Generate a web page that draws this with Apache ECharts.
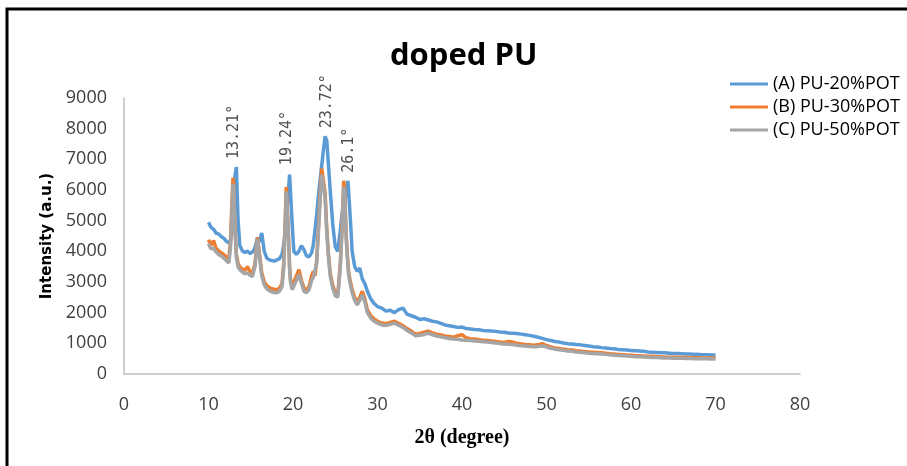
<!DOCTYPE html>
<html>
<head>
<meta charset="utf-8">
<script src="https://cdn.jsdelivr.net/npm/echarts@6/dist/echarts.min.js"></script>
<style>
  html, body { margin: 0; padding: 0; background: #fff; }
  #chart { width: 907px; height: 466px; }
</style>
</head>
<body>
<div id="chart"></div>
<script>
// 2theta positions (deg), shared by the three scans
const theta = [
  10.0, 10.3, 10.6, 10.9, 11.2, 11.5, 11.8, 12.1, 12.4, 12.6,
  12.8, 12.9, 13.0, 13.1, 13.3, 13.5, 13.7, 14.0, 14.3, 14.6,
  14.9, 15.2, 15.5, 15.8, 16.0, 16.3, 16.6, 16.9, 17.2, 17.5,
  17.8, 18.1, 18.4, 18.7, 18.9, 19.1, 19.2, 19.4, 19.6, 19.7,
  19.9, 20.1, 20.4, 20.7, 21.0, 21.3, 21.6, 21.9, 22.2, 22.4,
  22.6, 22.8, 23.0, 23.2, 23.4, 23.6, 23.8, 24.0, 24.2, 24.4,
  24.7, 25.0, 25.3, 25.6, 25.8, 26.0, 26.1, 26.3, 26.5, 26.6,
  26.8, 27.0, 27.3, 27.6, 27.9, 28.2, 28.5, 28.8, 29.2, 29.6,
  30.0, 30.5, 31.0, 31.5, 32.0, 32.5, 33.0, 33.5, 34.0, 34.5,
  35.0, 35.5, 36.0, 36.5, 37.0, 37.5, 38.0, 38.5, 39.0, 39.5,
  40.0, 40.5, 41.0, 41.5, 42.0, 42.5, 43.0, 43.5, 44.0, 44.5,
  45.0, 45.5, 46.0, 46.5, 47.0, 47.5, 48.0, 48.5, 49.0, 49.5,
  50.0, 50.5, 51.0, 51.5, 52.0, 52.5, 53.0, 53.5, 54.0, 54.5,
  55.0, 55.5, 56.0, 56.5, 57.0, 57.5, 58.0, 58.5, 59.0, 59.5,
  60.0, 60.5, 61.0, 61.5, 62.0, 62.5, 63.0, 63.5, 64.0, 64.5,
  65.0, 65.5, 66.0, 66.5, 67.0, 67.5, 68.0, 68.5, 69.0, 69.5,
  70.0
];

// (A) PU-20%POT
const intensityA = [
  4950, 4780, 4720, 4590, 4570, 4480, 4430, 4330, 4280, 4350,
  4700, 5300, 5900, 6400, 6750, 5000, 4200, 4020, 3960, 4010,
  3930, 3980, 4100, 4450, 4300, 4600, 4000, 3780, 3720, 3700,
  3680, 3720, 3760, 3900, 4200, 4700, 5000, 5800, 6500, 6550,
  4900, 4000, 3900, 4000, 4180, 4050, 3850, 3820, 3950, 4200,
  4700, 5200, 5800, 6300, 6800, 7300, 7750, 7600, 6800, 6000,
  4900, 4150, 4000, 4700, 5200, 5600, 5550, 5900, 6300, 6250,
  5000, 4000, 3500, 3350, 3450, 3100, 2950, 2700, 2450, 2300,
  2200, 2150, 2050, 2080, 2000, 2100, 2150, 1950, 1900, 1850,
  1780, 1800, 1760, 1720, 1700, 1650, 1600, 1570, 1550, 1520,
  1530, 1480, 1470, 1450, 1440, 1420, 1410, 1400, 1390, 1370,
  1360, 1340, 1330, 1320, 1300, 1280, 1260, 1230, 1200, 1160,
  1120, 1090, 1060, 1040, 1010, 990, 980, 960, 950, 930,
  910, 890, 880, 860, 850, 830, 820, 800, 790, 780,
  770, 760, 750, 740, 720, 710, 700, 690, 690, 680,
  670, 665, 660, 650, 650, 640, 640, 630, 630, 620,
  620
];

// (B) PU-30%POT
const intensityB = [
  4380, 4200, 4350, 4100, 4020, 3950, 3900, 3820, 3750, 4300,
  5800, 6400, 6100, 5000, 3900, 3600, 3500, 3420, 3380, 3500,
  3350, 3280, 3600, 4450, 4000, 3300, 3000, 2880, 2820, 2780,
  2760, 2750, 2800, 2950, 3600, 5200, 6100, 5000, 3500, 3100,
  2850, 2800, 3200, 3400, 3050, 2800, 2750, 2850, 3200, 3350,
  3200, 3700, 4700, 5800, 6700, 6650, 5900, 4700, 3900, 3300,
  2900, 2650, 2600, 3600, 4800, 6300, 6100, 4500, 3600, 3300,
  3000, 2750, 2500, 2350, 2500, 2700, 2450, 2100, 1900, 1800,
  1720, 1660, 1640, 1680, 1720, 1650, 1580, 1480, 1400, 1300,
  1320, 1360, 1400, 1340, 1300, 1270, 1240, 1220, 1200, 1250,
  1280, 1180, 1150, 1140, 1120, 1100, 1090, 1080, 1060, 1040,
  1030, 1060, 1040, 1000, 980, 960, 950, 940, 950, 990,
  930, 880, 850, 830, 810, 790, 780, 760, 750, 730,
  720, 710, 700, 690, 680, 660, 650, 640, 630, 620,
  610, 600, 595, 590, 580, 575, 570, 560, 555, 550,
  545, 545, 540, 535, 535, 530, 530, 525, 525, 520,
  520
];

// (C) PU-50%POT
const intensityC = [
  4250, 4080, 4100, 3980, 3900, 3850, 3780, 3700, 3620, 4100,
  5500, 6200, 6000, 4900, 3800, 3500, 3400, 3330, 3270, 3300,
  3220, 3180, 3500, 4400, 3900, 3200, 2900, 2780, 2720, 2680,
  2660, 2650, 2700, 2850, 3450, 5000, 5950, 4900, 3400, 3000,
  2750, 2700, 3050, 3250, 2950, 2700, 2650, 2750, 3050, 3150,
  3100, 3600, 4600, 5650, 6500, 6450, 5750, 4600, 3800, 3200,
  2800, 2550, 2500, 3500, 4650, 6100, 5950, 4400, 3500, 3200,
  2900, 2650, 2400, 2250, 2400, 2580, 2350, 2000, 1820, 1720,
  1660, 1600, 1580, 1620, 1660, 1590, 1520, 1420, 1340, 1250,
  1260, 1290, 1330, 1280, 1240, 1210, 1180, 1160, 1140, 1130,
  1110, 1100, 1090, 1080, 1070, 1050, 1040, 1030, 1010, 990,
  980, 970, 960, 940, 920, 910, 900, 890, 900, 920,
  880, 840, 810, 790, 770, 750, 740, 720, 710, 690,
  680, 670, 660, 650, 640, 625, 615, 605, 595, 585,
  575, 565, 560, 555, 545, 540, 535, 530, 525, 520,
  515, 515, 510, 505, 505, 500, 500, 495, 495, 490,
  490
];

const seriesNames = ['(A) PU-20%POT', '(B) PU-30%POT', '(C) PU-50%POT'];

// peak annotations: label text, where it sits on the 2theta axis, peak top of scan A
const peakLabels = ['13.21°', '19.24°', '23.72°', '26.1°'];
const peakX = [13.0, 19.3, 24.0, 26.6];
const peakY = [6750, 6550, 7750, 6300];

const colors = ['#5B9BD5', '#ED7D31', '#A5A5A5'];
const allIntensity = [intensityA, intensityB, intensityC];

const chart = echarts.init(document.getElementById('chart'));

const lineSeries = seriesNames.map((name, k) => ({
  name: name,
  type: 'line',
  showSymbol: false,
  symbol: 'none',
  data: theta.map((t, i) => [t, allIntensity[k][i]]),
  lineStyle: { width: 3.5, color: colors[k] },
  itemStyle: { color: colors[k] },
  z: 2 + k
}));

const peakSeries = {
  name: 'peaks',
  type: 'scatter',
  symbolSize: 0,
  silent: true,
  data: peakX.map((x, i) => [x, peakY[i]]),
  label: {
    show: true,
    position: 'top',
    distance: 8,
    rotate: 90,
    align: 'left',
    verticalAlign: 'middle',
    fontFamily: 'DejaVu Sans Mono',
    fontSize: 15,
    color: '#222',
    formatter: p => peakLabels[p.dataIndex]
  },
  z: 10
};

chart.setOption({
  animation: false,
  backgroundColor: '#fff',
  graphic: [{
    type: 'rect',
    shape: { x: 7, y: 9, width: 1000, height: 600 },
    style: { fill: 'none', stroke: '#000', lineWidth: 3 },
    z: 100
  }],
  title: {
    text: 'doped PU',
    left: 385,
    top: 36,
    textStyle: {
      fontFamily: 'Open Sans',
      fontWeight: 'bold',
      fontSize: 31,
      color: '#000'
    }
  },
  legend: {
    data: seriesNames,
    orient: 'vertical',
    left: 725,
    top: 70,
    itemGap: 5,
    itemWidth: 38,
    itemHeight: 3,
    icon: 'rect',
    textStyle: {
      fontFamily: 'Open Sans',
      fontSize: 18,
      color: '#000'
    }
  },
  grid: { left: 124, right: 107, top: 98, bottom: 92 },
  xAxis: {
    type: 'value',
    min: 0,
    max: 80,
    interval: 10,
    name: '2θ (degree)',
    nameLocation: 'middle',
    nameGap: 54,
    nameTextStyle: {
      fontFamily: 'Liberation Serif',
      fontWeight: 'bold',
      fontSize: 20,
      color: '#000'
    },
    axisLine: { show: true, lineStyle: { color: '#bfbfbf', width: 1.5 } },
    axisTick: { show: false },
    splitLine: { show: false },
    axisLabel: {
      margin: 22,
      fontFamily: 'Open Sans',
      fontSize: 18,
      color: '#404040'
    }
  },
  yAxis: {
    type: 'value',
    min: 0,
    max: 9000,
    interval: 1000,
    name: 'Intensity (a.u.)',
    nameLocation: 'middle',
    nameGap: 61,
    nameTextStyle: {
      fontFamily: 'DejaVu Sans',
      fontWeight: 'bold',
      fontSize: 15,
      color: '#000'
    },
    axisLine: { show: true, lineStyle: { color: '#bfbfbf', width: 1.5 } },
    axisTick: { show: false },
    splitLine: { show: false },
    axisLabel: {
      margin: 17,
      fontFamily: 'Open Sans',
      fontSize: 18,
      color: '#404040',
      formatter: v => String(v)
    }
  },
  series: [...lineSeries, peakSeries]
});
</script>
</body>
</html>
